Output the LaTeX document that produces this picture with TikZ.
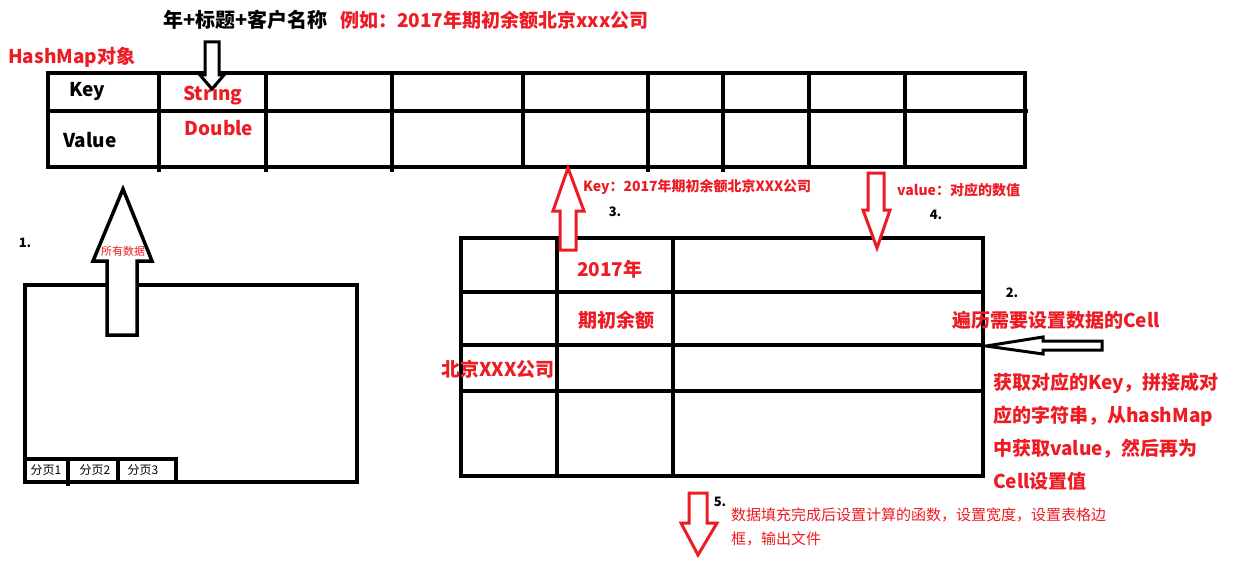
\documentclass[tikz,border=0pt]{standalone}
\usepackage{fontspec}
\setmainfont{Noto Sans CJK SC}
\definecolor{pred}{RGB}{237,28,36}
\begin{document}
\begin{tikzpicture}[x=1pt,y=-1pt,
  tline/.style={line width=4.5pt},
  bline/.style={line width=4pt},
  hollow/.style={line width=3pt,fill=white,line join=miter},
  rhollow/.style={hollow,draw=pred},
  rtxt/.style={text=pred,font=\bfseries\fontsize{19}{19}\selectfont,inner sep=0pt},
  btxt/.style={font=\bfseries\fontsize{19}{19}\selectfont,inner sep=0pt},
  rsmall/.style={text=pred,font=\bfseries\fontsize{14}{14}\selectfont,inner sep=0pt},
  num/.style={font=\bfseries\fontsize{13}{13}\selectfont,inner sep=0pt},
  tab/.style={font=\fontsize{12}{12}\selectfont,inner sep=0pt},
  ]
\useasboundingbox[fill=white] (0,0) rectangle (1233,567);

% top texts
\node[btxt,anchor=west,font=\bfseries\fontsize{20}{20}\selectfont] (title) at (163,20) {年+标题+客户名称};
\node[rtxt,anchor=west] (example) at (340,20) {例如：2017年期初余额北京xxx公司};
\node[rtxt,anchor=west] (hm) at (8,57) {HashMap对象};

% top table (HashMap)
\draw[tline] (48,73) rectangle (1025,167);
\draw[tline] (48,111) -- (1028,111);
\foreach \x in {159,266,392,648,723} \draw[tline] (\x,73) -- (\x,172);
\foreach \x in {523,809,905} \draw[tline] (\x,73) -- (\x,167);
\node[btxt] (key) at (87,92) {Key};
\node[btxt] (value) at (90,140) {Value};
\node[rtxt] (string) at (213,95) {String};
\node[rtxt] (double) at (219,128) {Double};

% black down arrow
\draw[hollow] (205,42) -- (219,42) -- (219,75) -- (224,75) -- (212,89) -- (200,75) -- (205,75) -- cycle;

% left box (sheet)
\draw[bline] (25,285) rectangle (357,482);
\draw[line width=3.5pt] (25,459) -- (176,459) -- (176,482);
\draw[line width=3.5pt] (68,459) -- (68,486);
\draw[line width=3.5pt] (118,459) -- (118,482);
\node[tab] (p1) at (46,470) {分页1};
\node[tab] (p2) at (95,470) {分页2};
\node[tab] (p3) at (143,470) {分页3};
\node[num] (n1) at (25,243) {1.};

% big up arrow
\draw[hollow,line width=3.5pt] (107,335) -- (107,261) -- (93,261) -- (123,189) -- (152,261) -- (137,261) -- (137,335) -- cycle;
\node[text=pred,font=\fontsize{11}{11}\selectfont,inner sep=0pt] (all) at (123,251) {所有数据};

% right table
\draw[tline] (461,238) rectangle (983,476);
\foreach \y in {292,345,391} \draw[tline] (461,\y) -- (983,\y);
\foreach \x in {557,673} \draw[tline] (\x,238) -- (\x,476);
\node[rtxt,anchor=west] (y2017) at (577,269) {2017年};
\node[rtxt,anchor=west] (qc) at (578,320) {期初余额};
\node[rtxt,anchor=west] (bj) at (441,369) {北京XXX公司};

% red up arrow (3)
\draw[rhollow] (560,250) -- (560,211) -- (553,211) -- (568,168) -- (584,211) -- (576,211) -- (576,250) -- cycle;
\node[rsmall,anchor=west] (keytxt) at (583,187) {Key：2017年期初余额北京XXX公司};
\node[num] (n3) at (615,212) {3.};

% red down arrow (4)
\draw[rhollow] (868,173) -- (884,173) -- (884,210) -- (890,210) -- (877,248) -- (863,210) -- (868,210) -- cycle;
\node[rsmall,anchor=west] (valtxt) at (897,190) {value：对应的数值};
\node[num] (n4) at (936,215) {4.};

% step 2
\node[num] (n2) at (1012,293) {2.};
\node[rtxt,anchor=west] (cell) at (952,320) {遍历需要设置数据的Cell};
\draw[hollow] (1102,341) -- (1043,341) -- (1043,337) -- (986,346) -- (1043,354) -- (1043,350) -- (1102,350) -- cycle;
\node[rtxt,anchor=north west,align=left,font=\bfseries\fontsize{19}{33}\selectfont] (desc) at (993,373) {获取对应的Key，拼接成对\\应的字符串，从hashMap\\中获取value，然后再为\\Cell设置值};

% step 5
\draw[rhollow] (689,493) -- (707,493) -- (707,523) -- (717,523) -- (698,555) -- (681,523) -- (689,523) -- cycle;
\node[num] (n5) at (720,502) {5.};
\node[text=pred,anchor=north west,align=left,inner sep=0pt,font=\fontsize{15}{24}\selectfont] (fin) at (731,508) {数据填充完成后设置计算的函数，设置宽度，设置表格边\\框，输出文件};
\end{tikzpicture}
\end{document}
